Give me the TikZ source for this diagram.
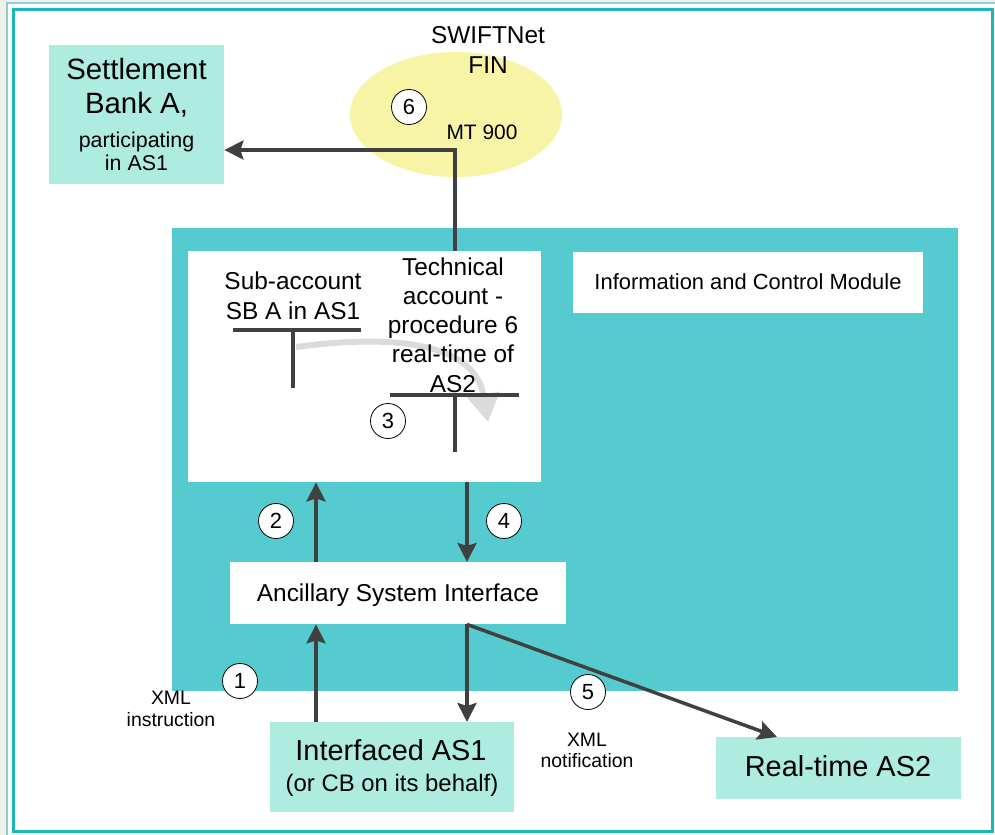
\documentclass[tikz,border=0pt]{standalone}
\usepackage{fontspec}
\setmainfont{Liberation Sans}
\usetikzlibrary{arrows.meta,shapes.geometric}
\definecolor{tealbg}{HTML}{55CBCF}
\definecolor{lteal}{HTML}{AEEBE0}
\definecolor{yel}{HTML}{F8F4A6}
\definecolor{framec}{HTML}{1BB8BA}
\definecolor{framel}{HTML}{8ACFCF}
\definecolor{bggray}{HTML}{F0F0EC}
\definecolor{arr}{HTML}{404040}
\newcommand{\fs}[1]{\fontsize{#1}{#1}\selectfont}
\begin{document}
\begin{tikzpicture}[x=1bp,y=-1bp,
  conn/.style={draw=arr, line width=3.5bp, -{Stealth[length=19bp,width=19bp,inset=3bp]}},
  tline/.style={draw=arr, line width=4bp},
  num/.style={circle, draw=black, fill=white, line width=0.8bp, minimum size=35bp, inner sep=0pt, font=\fs{22}},
  box/.style={rectangle, inner sep=0pt, anchor=north west, draw=none},
  txt/.style={anchor=base, inner sep=0pt}
]
\useasboundingbox (0,0) rectangle (995,835);
% frame
\fill[bggray] (0,0) rectangle (995,835);
\fill[white] (7,3) rectangle (995,835);
\draw[framel, line width=1.5bp] (7,835) -- (7,3) -- (995,3);
\draw[framec, line width=3bp] (13,9) rectangle (992,831);

% boxes
\node[box, fill=tealbg, minimum width=786bp, minimum height=463bp] (sys) at (172,228) {};
\node[box, fill=white, minimum width=353bp, minimum height=231bp] (wb) at (188,251) {};
\node[box, fill=white, minimum width=350bp, minimum height=61bp] (icm) at (573,252) {};
\node[box, fill=white, minimum width=336bp, minimum height=62bp] (asi) at (230,562) {};
\node[box, fill=lteal, minimum width=175bp, minimum height=139bp] (sb) at (49,45) {};
\node[box, fill=lteal, minimum width=244bp, minimum height=90bp] (ias) at (270,722) {};
\node[box, fill=lteal, minimum width=245bp, minimum height=62bp] (rt) at (716,737) {};
\node[ellipse, fill=yel, minimum width=212bp, minimum height=125bp, inner sep=0pt] (swift) at (456,114.5) {};

% gray transfer arrow
\coordinate (g0) at (296,347);
\coordinate (g1) at (488,422);
\draw[line width=6bp, color=black!14, -{Triangle[length=28bp,width=32bp]}] (g0) .. controls (400,333) and (475,345) .. (g1);

% texts
\node[txt, font=\fs{29.5}] (sbt1) at (136.5,79) {Settlement};
\node[txt, font=\fs{29.5}] (sbt2) at (136.5,113) {Bank A,};
\node[txt, font=\fs{21.5}] (sbt3) at (136.5,147) {participating};
\node[txt, font=\fs{21.5}] (sbt4) at (136.5,170) {in AS1};
\node[txt, font=\fs{24.5}] (sw1) at (488,43) {SWIFTNet};
\node[txt, font=\fs{24.5}] (sw2) at (488,73) {FIN};
\node[txt, font=\fs{21}] (mt) at (482,139) {MT 900};
\node[txt, font=\fs{24.5}] (sa1) at (293,289) {Sub-account};
\node[txt, font=\fs{24.5}] (sa2) at (293,319) {SB A in AS1};
\node[txt, font=\fs{24.5}] (ta1) at (453,275) {Technical};
\node[txt, font=\fs{24.5}] (ta2) at (453,304) {account -};
\node[txt, font=\fs{24.5}] (ta3) at (453,333) {procedure 6};
\node[txt, font=\fs{24.5}] (ta4) at (453,362) {real-time of};
\node[txt, font=\fs{24.5}] (ta5) at (453,392) {AS2};
\node[txt, font=\fs{22}] (icmt) at (748,289) {Information and Control Module};
\node[txt, font=\fs{24.5}] (asit) at (398,601) {Ancillary System Interface};
\node[txt, font=\fs{29}] (iast1) at (391,760) {Interfaced AS1};
\node[txt, font=\fs{24}] (iast2) at (392,791) {(or CB on its behalf)};
\node[txt, font=\fs{29}] (rtt) at (838,776) {Real-time AS2};
\node[txt, font=\fs{19.5}] (xi1) at (171,704) {XML};
\node[txt, font=\fs{19.5}] (xi2) at (171,726) {instruction};
\node[txt, font=\fs{19.5}] (xn1) at (587,746) {XML};
\node[txt, font=\fs{19.5}] (xn2) at (587,767) {notification};

% T accounts
\coordinate (tl) at (233,330); \coordinate (tr) at (361,330);
\coordinate (tv1) at (293,330); \coordinate (tv2) at (293,388);
\draw[tline] (tl) -- (tr);
\draw[tline] (tv1) -- (tv2);
\coordinate (ul) at (390,395); \coordinate (ur) at (519,395);
\coordinate (uv1) at (455,395); \coordinate (uv2) at (455,452);
\draw[tline] (ul) -- (ur);
\draw[tline] (uv1) -- (uv2);

% connectors
\coordinate (c6) at (455,150);
\draw[conn] (wb.north -| c6) -- (c6) -- (sb.east |- c6);
\coordinate (x2) at (316,0);
\coordinate (x4) at (467,0);
\draw[conn] (asi.north -| x2) -- (wb.south -| x2);
\draw[conn] (wb.south -| x4) -- (asi.north -| x4);
\draw[conn] (ias.north -| x2) -- (asi.south -| x2);
\draw[conn] (asi.south -| x4) -- (ias.north -| x4);
\draw[conn] (asi.south -| x4) -- ([xshift=61bp]rt.north west);

% numbers
\node[num] (n6) at (409,107) {6};
\node[num] (n3) at (388,421) {3};
\node[num] (n2) at (276,521) {2};
\node[num] (n4) at (504,521) {4};
\node[num] (n1) at (240,681) {1};
\node[num] (n5) at (588,692) {5};
\end{tikzpicture}
\end{document}
